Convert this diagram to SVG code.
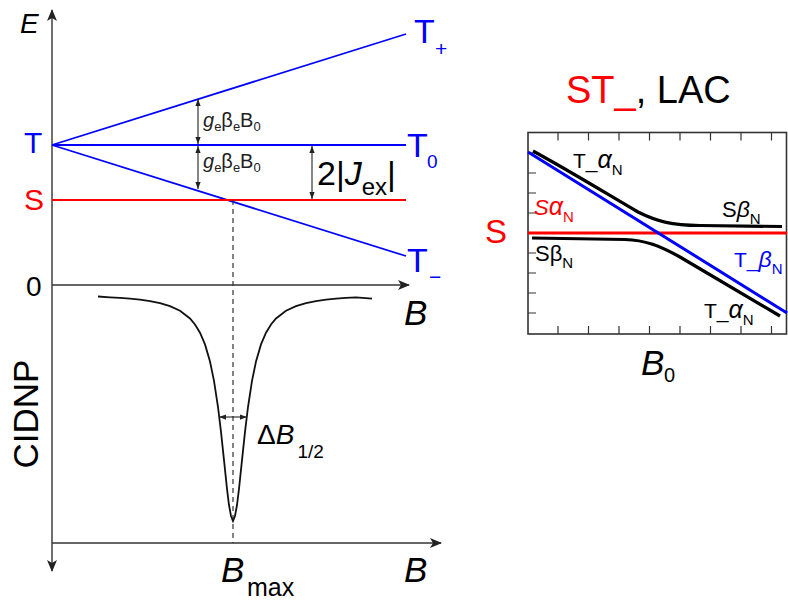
<svg xmlns="http://www.w3.org/2000/svg" width="788" height="603" viewBox="0 0 788 603">
<style>
text{font-family:"Liberation Sans",Arial,sans-serif}
.ax{stroke:#333;stroke-width:1.4;fill:none}
.bl{stroke:#0000ff;stroke-width:1.8;fill:none}
.rd{stroke:#ff0000;stroke-width:1.8;fill:none}
.dim{stroke:#222;stroke-width:1.1;fill:none}
.k{fill:#000}
.b{fill:#0000ff}
.r{fill:#ff0000}
.it{font-style:italic}
.tk{stroke:#333;stroke-width:1.2}
</style>
<defs>
<marker id="ah" viewBox="0 0 12 10" refX="11" refY="5" markerWidth="12" markerHeight="10" markerUnits="userSpaceOnUse" orient="auto">
<path d="M0,0 L12,5 L0,10 L3,5 Z" fill="#222"/>
</marker>
<marker id="sa" viewBox="0 0 8 6" refX="8" refY="3" markerWidth="7" markerHeight="6" markerUnits="userSpaceOnUse" orient="auto-start-reverse">
<path d="M0,0 L8,3 L0,6 Z" fill="#222"/>
</marker>
</defs>

<g id="axes">
<line class="ax" x1="52" y1="285" x2="52" y2="10" marker-end="url(#ah)"/>
<line class="ax" x1="52" y1="285" x2="52" y2="571" marker-end="url(#ah)"/>
<line class="ax" x1="52" y1="285" x2="409" y2="285" marker-end="url(#ah)"/>
<line class="ax" x1="52" y1="543" x2="441" y2="543" marker-end="url(#ah)"/>
<text x="20" y="33" font-size="28" class="k it">E</text>
<text x="26" y="296" font-size="28" class="k">0</text>
<text x="404" y="325" font-size="35" class="k it">B</text>
<text x="404" y="582" font-size="35" class="k it">B</text>
<text transform="translate(38,414) rotate(-90)" text-anchor="middle" font-size="35" class="k">CIDNP</text>
</g>

<g id="levels">
<line class="bl" x1="52" y1="145" x2="406" y2="34"/>
<line class="bl" x1="52" y1="145" x2="406" y2="145"/>
<line class="bl" x1="52" y1="145" x2="406" y2="256"/>
<line class="rd" x1="52" y1="200" x2="406" y2="200"/>
<line x1="233" y1="200" x2="233" y2="543" stroke="#333" stroke-width="1.2" stroke-dasharray="5,4"/>
</g>

<g id="level-labels">
<text x="24" y="153" font-size="30" class="b">T</text>
<text x="24" y="210" font-size="30" class="r">S</text>
<text x="414" y="43" font-size="34" class="b">T</text>
<text x="435" y="56" font-size="21" class="b">+</text>
<text x="407" y="157" font-size="34" class="b">T</text>
<text x="427" y="168" font-size="19" class="b">0</text>
<text x="407" y="272" font-size="34" class="b">T</text>
<text x="429" y="284" font-size="21" class="b">−</text>
</g>

<g id="splittings">
<line class="dim" x1="198" y1="99" x2="198" y2="144" marker-start="url(#sa)" marker-end="url(#sa)"/>
<line class="dim" x1="198" y1="146" x2="198" y2="189" marker-start="url(#sa)" marker-end="url(#sa)"/>
<line class="dim" x1="312" y1="146" x2="312" y2="199" marker-start="url(#sa)" marker-end="url(#sa)"/>
<text x="203" y="127" font-size="20" fill="#222"><tspan class="it">g</tspan><tspan font-size="13" dy="4">e</tspan><tspan dy="-4">β</tspan><tspan font-size="13" dy="4">e</tspan><tspan dy="-4">B</tspan><tspan font-size="13" dy="4">0</tspan></text>
<text x="203" y="168" font-size="20" fill="#222"><tspan class="it">g</tspan><tspan font-size="13" dy="4">e</tspan><tspan dy="-4">β</tspan><tspan font-size="13" dy="4">e</tspan><tspan dy="-4">B</tspan><tspan font-size="13" dy="4">0</tspan></text>
<text x="317" y="185" font-size="34" class="k">2|<tspan class="it">J</tspan><tspan font-size="24" dy="10">ex</tspan><tspan dy="-10">|</tspan></text>
</g>

<g id="cidnp-curve">
<path fill="none" stroke="#111" stroke-width="1.8" d="M98,296.5 L110,297.3 L120,297.9 L130,298.7 L140,299.7 L150,301.1 L160,303.2 L170,306.1 L180,310.8 L190,318.5 L195,324.5 L200,332.7 L205,344.4 L210,361.5 L214,380.8 L218,407 L221,431.8 L224,460.2 L227,488.8 L229,505 L231,516 L233,521 L235,516 L237,505 L239,488.8 L242,460.2 L245,431.8 L248,407 L252,380.8 L256,361.5 L261,344.4 L266,332.7 L271,324.5 L276,318.5 L286,310.8 L296,306.1 L306,303.2 L316,301.1 L326,299.7 L336,298.7 L346,297.9 L356,297.3 L372,298.6"/>
<line class="dim" x1="219" y1="417" x2="247" y2="417" marker-start="url(#sa)" marker-end="url(#sa)"/>
<text x="257" y="444" font-size="28" class="k">Δ<tspan class="it">B</tspan><tspan font-size="19" dy="14" dx="3">1/2</tspan></text>
<text x="221" y="582" font-size="35" class="k it">B</text>
<text x="247" y="596" font-size="25" class="k">max</text>
</g>

<g id="lac-title">
<text x="566" y="103" font-size="38"><tspan class="r">ST_</tspan><tspan class="k">, LAC</tspan></text>
</g>

<g id="lac-box">
<rect x="528" y="132.5" width="258.5" height="201.5" fill="none" stroke="#333" stroke-width="1.6"/>
<path class="tk" d="M558,132.5v8 M588.5,132.5v8 M619,132.5v8 M649.5,132.5v8 M680,132.5v8 M710.5,132.5v8 M741,132.5v8 M771.5,132.5v8 M558,334v-8 M588.5,334v-8 M619,334v-8 M649.5,334v-8 M680,334v-8 M710.5,334v-8 M741,334v-8 M771.5,334v-8 M528,153h8 M528,173h8 M528,193h8 M528,213h8 M528,253h8 M528,273h8 M528,293h8 M528,313h8"/>
</g>

<g id="lac-levels">
<line x1="528" y1="233" x2="787" y2="233" stroke="#ff0000" stroke-width="3"/>
<line x1="528" y1="152" x2="787" y2="313" stroke="#0000ff" stroke-width="3"/>
<path fill="none" stroke="#000" stroke-width="3.2" d="M533,151 C575,174 612,197 638,212 C658,222 672,225 700,225.5 L782,226.5"/>
<path fill="none" stroke="#000" stroke-width="3.2" d="M532,238 L625,239.5 C645,240 660,246 680,257 L780,316"/>
</g>

<g id="lac-labels">
<text x="485" y="243" font-size="33" class="r">S</text>
<text x="573" y="168" font-size="21" class="k">T_<tspan class="it" font-size="25">α</tspan><tspan font-size="15" dy="7">N</tspan></text>
<text x="534" y="215" font-size="22" class="r"><tspan class="it">S</tspan><tspan class="it" font-size="25">α</tspan><tspan font-size="15" dy="7">N</tspan></text>
<text x="722" y="217" font-size="22" class="k">S<tspan class="it" font-size="23">β</tspan><tspan font-size="15" dy="7">N</tspan></text>
<text x="535" y="261" font-size="22" class="k">Sβ<tspan font-size="15" dy="7">N</tspan></text>
<text x="734" y="267" font-size="21" class="b">T_<tspan class="it" font-size="23">β</tspan><tspan font-size="15" dy="7">N</tspan></text>
<text x="704" y="318" font-size="21" class="k">T_<tspan class="it" font-size="25">α</tspan><tspan font-size="15" dy="7">N</tspan></text>
<text x="641" y="375" font-size="35" class="k it">B</text>
<text x="664" y="382" font-size="20" class="k">0</text>
</g>
</svg>
